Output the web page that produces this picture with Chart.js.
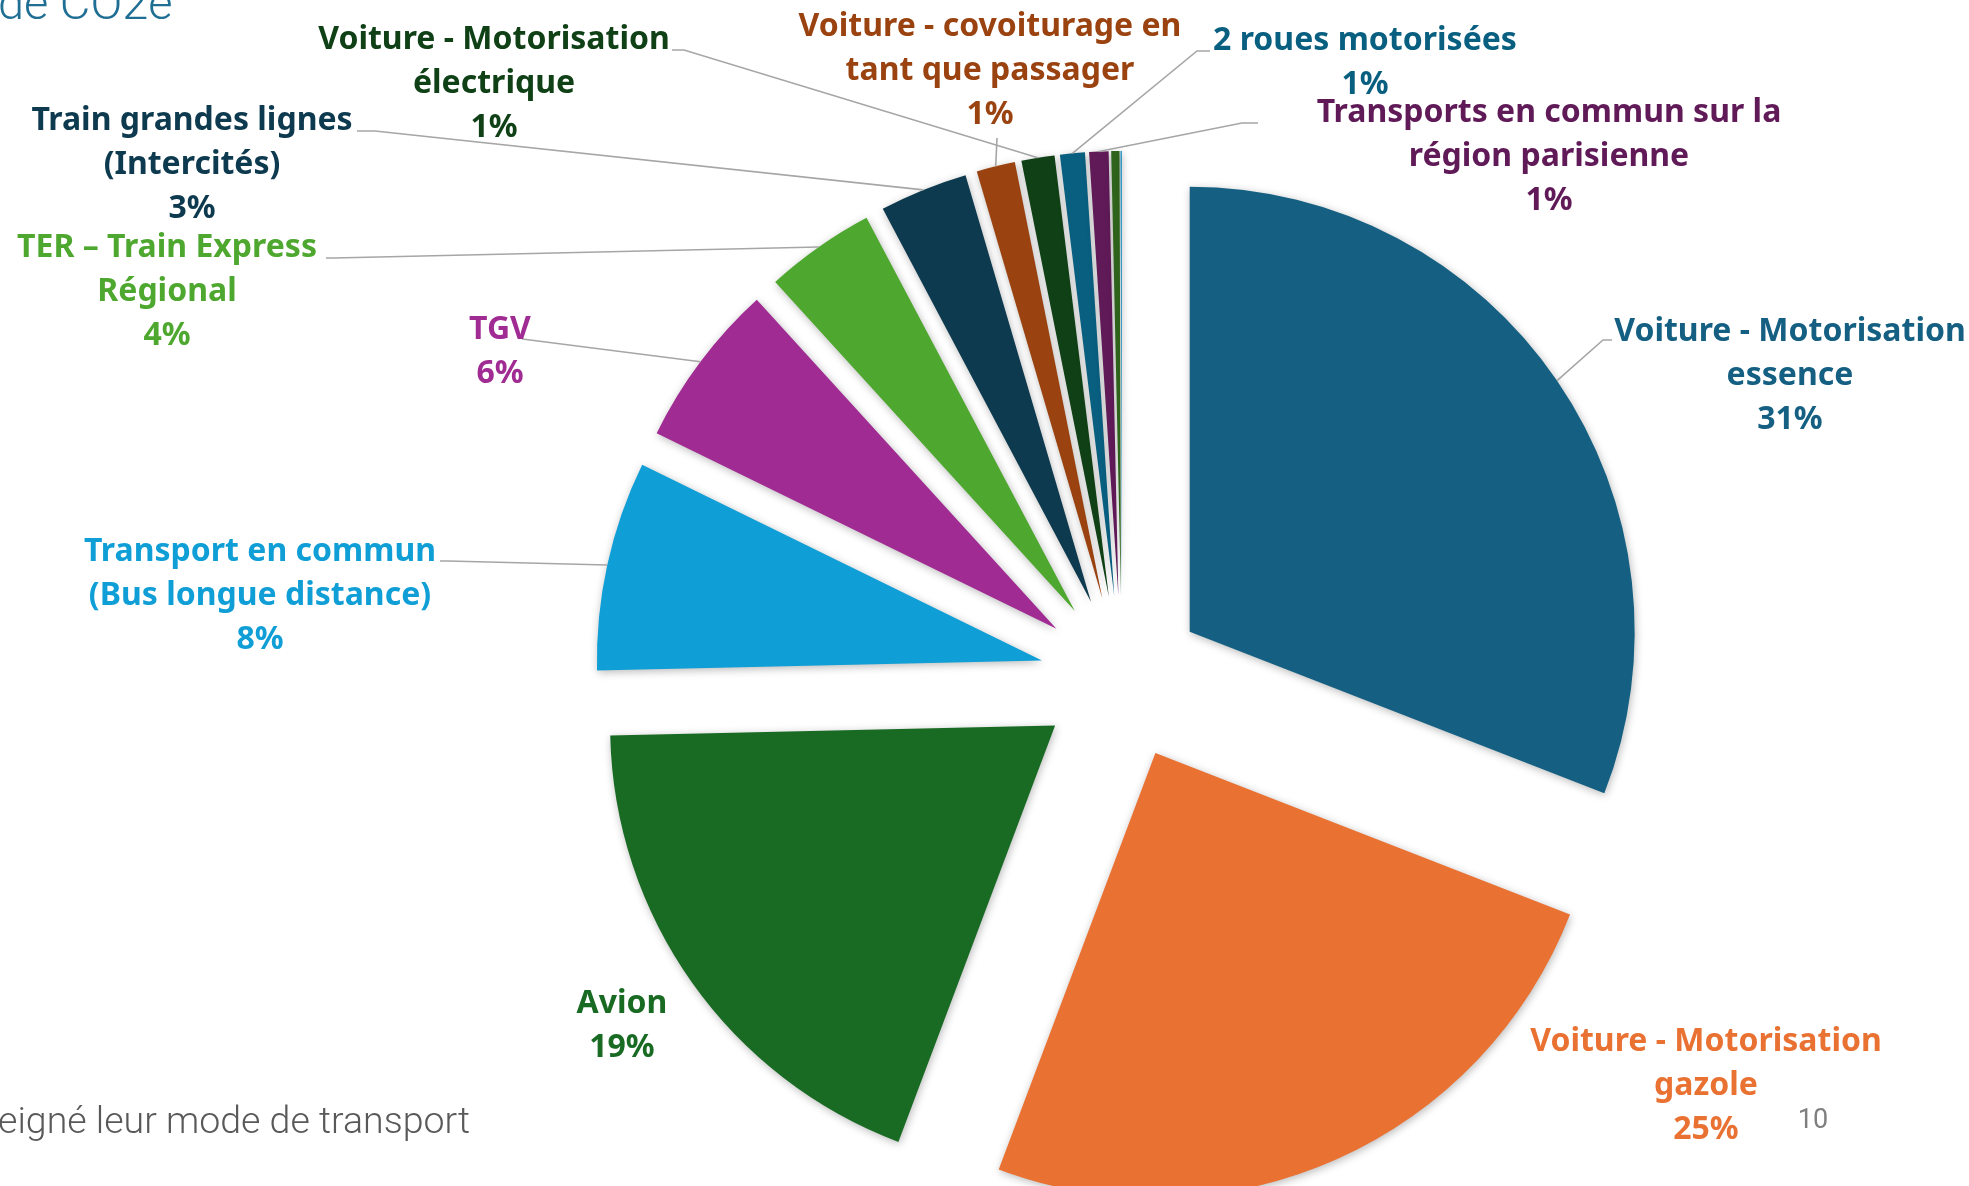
<!DOCTYPE html>
<html lang="fr">
<head>
<meta charset="utf-8">
<title>Modes de transport - émissions</title>
<script src="https://cdn.jsdelivr.net/npm/chart.js@4.4.1/dist/chart.umd.min.js"></script>
<style>
  html, body { margin: 0; padding: 0; background: #ffffff; }
  #wrap { position: relative; width: 1969px; height: 1186px; overflow: hidden; }
</style>
</head>
<body>
<div id="wrap"><canvas id="modesChart"></canvas></div>
<script>
// categories, clockwise from 12 o'clock
const categories = [
    "Voiture - Motorisation essence",
    "Voiture - Motorisation gazole",
    "Avion",
    "Transport en commun (Bus longue distance)",
    "TGV",
    "TER – Train Express Régional",
    "Train grandes lignes (Intercités)",
    "Voiture - covoiturage en tant que passager",
    "Voiture - Motorisation électrique",
    "2 roues motorisées",
    "Transports en commun sur la région parisienne",
    "",
    ""
];

// share of CO2e (%)
const emissions = [30.9, 24.8, 18.9, 7.6, 6.0, 4.0, 3.2, 1.4, 1.2, 0.9, 0.7, 0.3, 0.05];

const sliceColors = [
    '#156082', '#E97132', '#196B24', '#0F9ED5', '#A02B93', '#4EA72E',
    '#0D3A4E', '#9A4310', '#0F4016', '#095F80', '#601A58', '#2F641C', '#1F8EC0'
];

// where each data label sits, and where its leader line starts
const labelLayout = [
    { x: 1790, y: 332, wrapAt: 3, leader: [[1612, 340], [1603, 340]] },
    { x: 1706, y: 1042, wrapAt: 3 },
    { x: 622, y: 1004 },
    { x: 260, y: 552, wrapAt: 3, leader: [[440, 561], [448, 561]] },
    { x: 500, y: 330, leader: [[522, 339], [530, 340]] },
    { x: 167, y: 248, wrapAt: 4, leader: [[326, 258], [334, 258]] },
    { x: 192, y: 121, wrapAt: 3, leader: [[357, 131], [375, 131]] },
    { x: 990, y: 27, wrapAt: 4, leader: [[997, 138]] },
    { x: 494, y: 40, wrapAt: 3, leader: [[672, 50], [684, 50]] },
    { x: 1365, y: 41, leader: [[1210, 51], [1197, 51]] },
    { x: 1549, y: 113, wrapAt: 5, leader: [[1258, 123], [1242, 123]] },
    null,
    null
];

const EXPLODE = 82;
const LINE_H = 44;
const LABEL_FONT = 'bold 32px "Noto Sans"';

const total = emissions.reduce((a, b) => a + b, 0);

function labelLines(i) {
    const words = categories[i].split(' ');
    const cut = labelLayout[i].wrapAt;
    const lines = cut ? [words.slice(0, cut).join(' '), words.slice(cut).join(' ')] : [categories[i]];
    lines.push(Math.round(emissions[i] / total * 100) + '%');
    return lines;
}

// pull every slice out along its mid angle, like Excel's point explosion
const explodePlugin = {
    id: 'explode',
    afterDatasetsUpdate(chart) {
        chart.getDatasetMeta(0).data.forEach(arc => {
            const mid = (arc.startAngle + arc.endAngle) / 2;
            arc.x += Math.cos(mid) * EXPLODE;
            arc.y += Math.sin(mid) * EXPLODE;
        });
    },
    beforeDatasetsDraw(chart) {
        const ctx = chart.ctx;
        ctx.save();
        ctx.shadowColor = 'rgba(0, 0, 0, 0.28)';
        ctx.shadowBlur = 9;
        ctx.shadowOffsetX = 1;
        ctx.shadowOffsetY = 2;
    },
    afterDatasetsDraw(chart) {
        chart.ctx.restore();
    }
};

const labelPlugin = {
    id: 'sliceLabels',
    afterDraw(chart) {
        const ctx = chart.ctx;
        const arcs = chart.getDatasetMeta(0).data;
        ctx.save();

        // leader lines
        ctx.strokeStyle = '#A6A6A6';
        ctx.lineWidth = 1.6;
        labelLayout.forEach((lay, i) => {
            if (!lay || !lay.leader) return;
            const arc = arcs[i];
            const mid = (arc.startAngle + arc.endAngle) / 2;
            const ex = arc.x + Math.cos(mid) * arc.outerRadius;
            const ey = arc.y + Math.sin(mid) * arc.outerRadius;
            ctx.beginPath();
            ctx.moveTo(lay.leader[0][0], lay.leader[0][1]);
            lay.leader.slice(1).forEach(p => ctx.lineTo(p[0], p[1]));
            ctx.lineTo(ex, ey);
            ctx.stroke();
        });

        // label text
        ctx.font = LABEL_FONT;
        ctx.textAlign = 'center';
        ctx.textBaseline = 'middle';
        labelLayout.forEach((lay, i) => {
            if (!lay) return;
            ctx.fillStyle = sliceColors[i];
            labelLines(i).forEach((line, k) => {
                ctx.fillText(line, lay.x, lay.y + k * LINE_H);
            });
        });

        // slide fragments around the chart
        ctx.textAlign = 'left';
        ctx.textBaseline = 'alphabetic';
        ctx.fillStyle = '#1F6E93';
        ctx.font = '300 47px Roboto';
        ctx.fillText('de CO2e', -2, 19);
        ctx.fillStyle = '#595959';
        ctx.font = '300 37.5px Roboto';
        ctx.fillText('eigné leur mode de transport', -2, 1133);
        ctx.fillStyle = '#7F7F7F';
        ctx.font = '400 27px Roboto';
        ctx.textAlign = 'center';
        ctx.fillText('10', 1813, 1128);
        ctx.restore();
    }
};

const data = {
    labels: categories,
    datasets: [{
        data: emissions,
        backgroundColor: sliceColors,
        borderWidth: 0,
        radius: 445,
        clip: false
    }]
};

const config = {
    type: 'pie',
    data: data,
    options: {
        responsive: true,
        maintainAspectRatio: false,
        animation: false,
        events: [],
        radius: 445,
        layout: {
            padding: { left: 275, right: 0, top: 170, bottom: 0 }
        },
        plugins: {
            legend: { display: false },
            tooltip: { enabled: false }
        }
    },
    plugins: [explodePlugin, labelPlugin]
};

const modesChart = new Chart(document.getElementById('modesChart'), config);
</script>
</body>
</html>
